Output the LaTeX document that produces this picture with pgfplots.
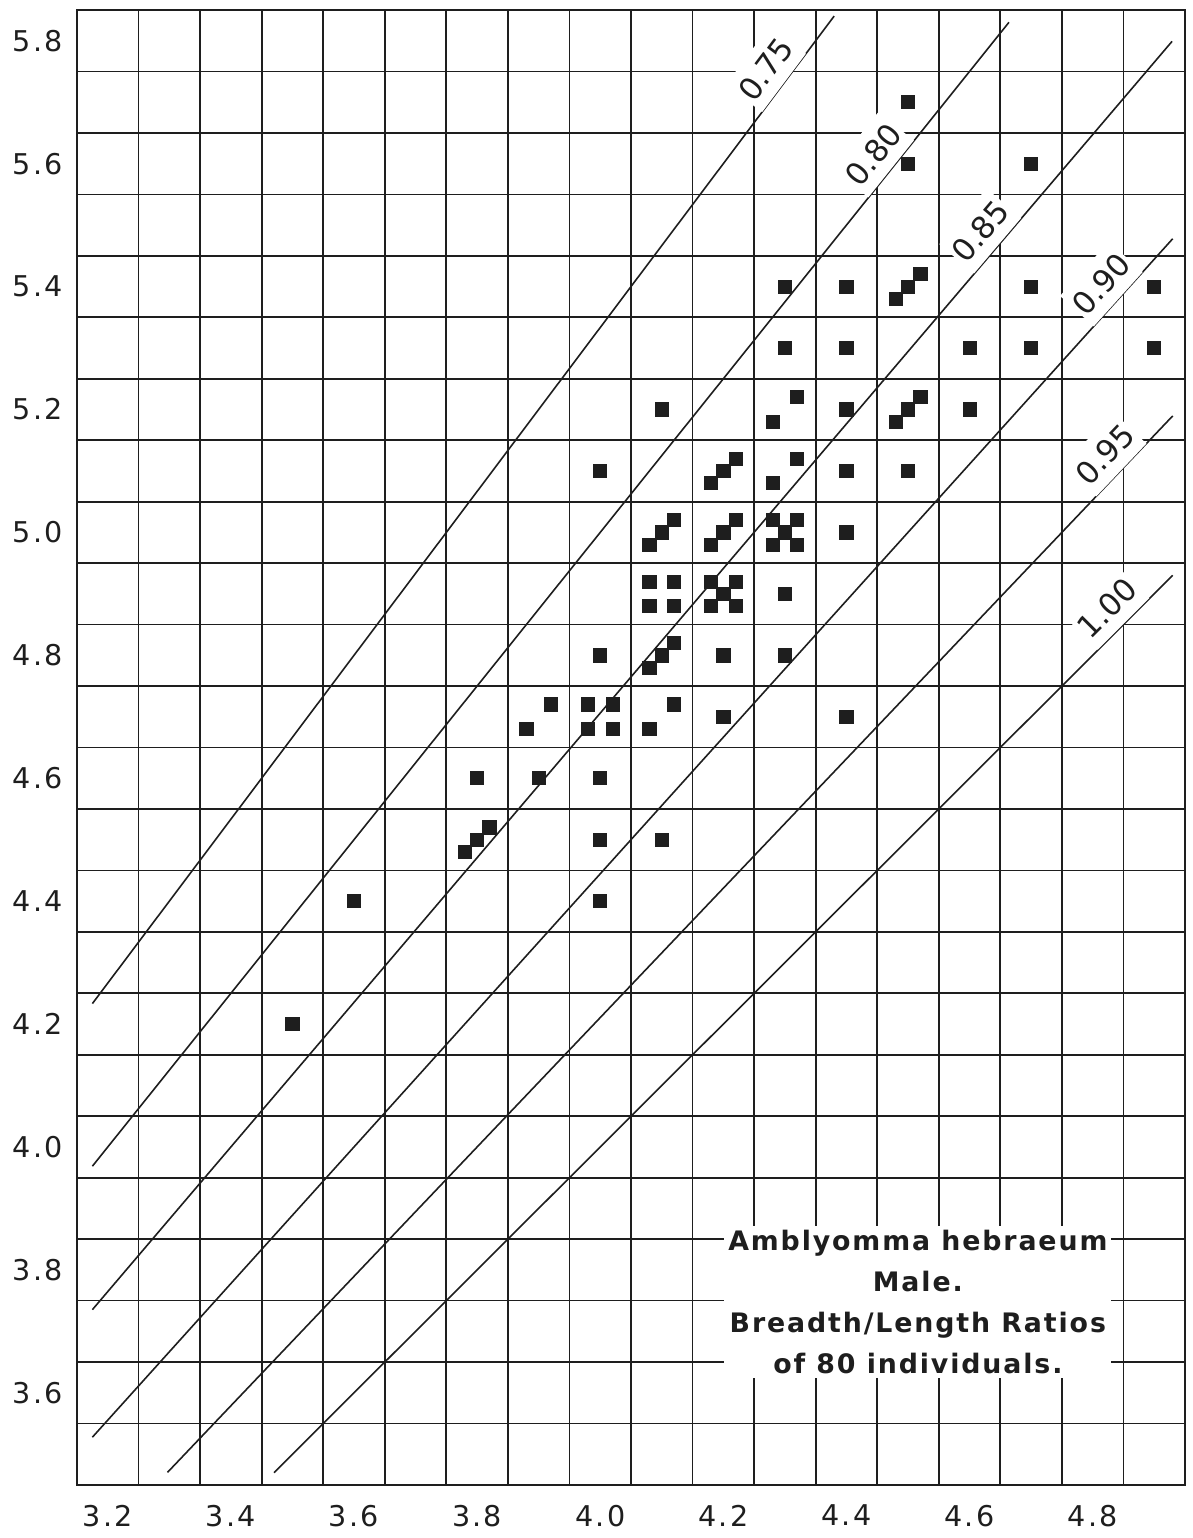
\documentclass[border=0pt]{standalone}
\usepackage{fontspec}
\setmainfont{DejaVu Sans}
\usepackage{pgfplots}
\pgfplotsset{compat=1.18}
\definecolor{ink}{HTML}{1E1E1E}
\newcommand{\tickfont}{\fontsize{14.3}{15}\selectfont\addfontfeature{LetterSpace=8}}
\newcommand{\ratiofont}{\fontsize{15.5}{16}\selectfont}
\newcommand{\boxfont}{\fontsize{13.4}{20.5}\selectfont\bfseries\addfontfeature{LetterSpace=7}}

\pgfplotstableread{
x y
4.5 5.7
4.5 5.6
4.7 5.6
4.3 5.4
4.4 5.4
4.48 5.38
4.5 5.4
4.52 5.42
4.7 5.4
4.9 5.4
4.3 5.3
4.4 5.3
4.6 5.3
4.7 5.3
4.9 5.3
4.1 5.2
4.28 5.18
4.32 5.22
4.4 5.2
4.48 5.18
4.5 5.2
4.52 5.22
4.6 5.2
4.0 5.1
4.18 5.08
4.2 5.1
4.22 5.12
4.28 5.08
4.32 5.12
4.4 5.1
4.5 5.1
4.08 4.98
4.1 5.0
4.12 5.02
4.18 4.98
4.2 5.0
4.22 5.02
4.28 5.02
4.32 5.02
4.3 5.0
4.28 4.98
4.32 4.98
4.4 5.0
4.08 4.92
4.12 4.92
4.08 4.88
4.12 4.88
4.18 4.92
4.22 4.92
4.2 4.9
4.18 4.88
4.22 4.88
4.3 4.9
4.0 4.8
4.08 4.78
4.1 4.8
4.12 4.82
4.2 4.8
4.3 4.8
3.92 4.72
3.88 4.68
3.98 4.72
4.02 4.72
3.98 4.68
4.02 4.68
4.08 4.68
4.12 4.72
4.2 4.7
4.4 4.7
3.8 4.6
3.9 4.6
4.0 4.6
3.78 4.48
3.8 4.5
3.82 4.52
4.0 4.5
4.1 4.5
3.6 4.4
4.0 4.4
3.5 4.2
}\ticks

\begin{document}
\begin{tikzpicture}[x=1pt,y=1pt]
\useasboundingbox (-38.5,-26.5) rectangle (558,742.5);
\begin{axis}[
  at={(0,0)}, anchor=south west,
  scale only axis, width=554pt, height=737.5pt,
  xmin=3.15, xmax=4.95, ymin=3.45, ymax=5.85,
  xtick={3.2,3.4,3.6,3.8,4.0,4.2,4.4,4.6,4.8},
  xticklabels={3.2,3.4,3.6,3.8,4.0,4.2,4.4,4.6,4.8},
  ytick={3.6,3.8,4.0,4.2,4.4,4.6,4.8,5.0,5.2,5.4,5.6,5.8},
  yticklabels={3.6,3.8,4.0,4.2,4.4,4.6,4.8,5.0,5.2,5.4,5.6,5.8},
  minor xtick={3.25,3.35,3.45,3.55,3.65,3.75,3.85,3.95,4.05,4.15,4.25,4.35,4.45,4.55,4.65,4.75,4.85},
  minor ytick={3.55,3.65,3.75,3.85,3.95,4.05,4.15,4.25,4.35,4.45,4.55,4.65,4.75,4.85,4.95,5.05,5.15,5.25,5.35,5.45,5.55,5.65,5.75},
  major tick length=0pt, minor tick length=0pt,
  grid=minor,
  minor grid style={ink, line width=0.85pt},
  axis line style={ink, line width=1.2pt},
  tick label style={font=\tickfont, text=ink},
  xticklabel style={yshift=-6.5pt},
  yticklabel style={xshift=-3.5pt},
  clip=true,
]
\addplot[only marks, mark=square*, mark size=3.3pt, ink, mark options={fill=ink, draw=ink}] table {\ticks};

% ratio lines (breadth/length), endpoints
\addplot[ink, line width=0.8pt] coordinates {(3.175,4.2333) (4.380,5.840)};
\addplot[ink, line width=0.8pt] coordinates {(3.175,3.96875) (4.664,5.830)};
\addplot[ink, line width=0.8pt] coordinates {(3.175,3.7353) (4.929,5.799)};
\addplot[ink, line width=0.8pt] coordinates {(3.175,3.5278) (4.930,5.4778)};
\addplot[ink, line width=0.8pt] coordinates {(3.297,3.4705) (4.930,5.1895)};
\addplot[ink, line width=0.8pt] coordinates {(3.470,3.470) (4.930,4.930)};

\node[rotate=53.13, anchor=south, fill=white, inner xsep=1pt, inner ysep=5.5pt, font=\ratiofont, text=ink] at (axis cs:4.299,5.731) {0.75};
\node[rotate=51.34, anchor=south, fill=white, inner xsep=1pt, inner ysep=5.5pt, font=\ratiofont, text=ink] at (axis cs:4.473,5.591) {0.80};
\node[rotate=49.64, anchor=south, fill=white, inner xsep=1pt, inner ysep=5.5pt, font=\ratiofont, text=ink] at (axis cs:4.646,5.466) {0.85};
\node[rotate=48.01, anchor=south, fill=white, inner xsep=1pt, inner ysep=5.5pt, font=\ratiofont, text=ink] at (axis cs:4.842,5.379) {0.90};
\node[rotate=46.47, anchor=south, fill=white, inner xsep=1pt, inner ysep=5.5pt, font=\ratiofont, text=ink] at (axis cs:4.847,5.101) {0.95};
\node[rotate=45, anchor=south, fill=white, inner xsep=1pt, inner ysep=5.5pt, font=\ratiofont, text=ink] at (axis cs:4.8505,4.8505) {1.00};

\node[fill=white, inner sep=2pt, align=center, font=\boxfont, text=ink] at (axis cs:4.516,3.7475)
  {Amblyomma hebraeum\\Male.\\Breadth/Length Ratios\\of 80 individuals.};
\end{axis}
\end{tikzpicture}
\end{document}
